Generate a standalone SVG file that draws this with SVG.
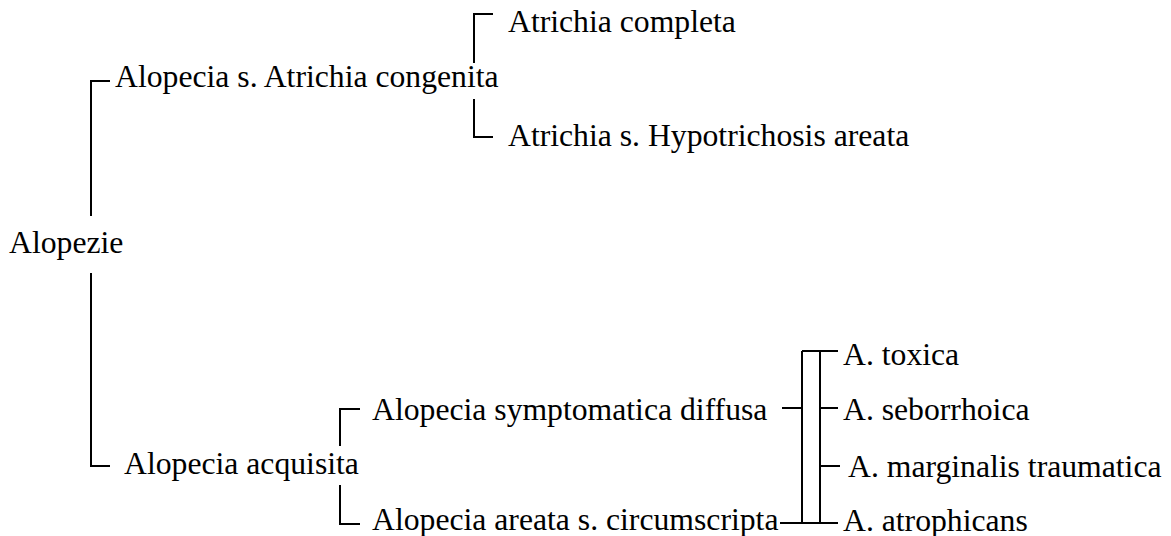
<svg xmlns="http://www.w3.org/2000/svg" width="1171" height="536" viewBox="0 0 1171 536">
<style>
text{font-family:"Liberation Serif","Times New Roman",serif;font-size:31.7px;fill:#000}
.c{fill:none;stroke:#000;stroke-width:2}
</style>
<rect width="1171" height="536" fill="#fff"/>
<g id="connectors">
<path class="c" d="M110,81H91V216"/>
<path class="c" d="M91,273V466H110"/>
<path class="c" d="M493,14H474V63"/>
<path class="c" d="M474,99V137H493"/>
<path class="c" d="M360,409H340V446"/>
<path class="c" d="M340,485V524H360"/>
<path class="c" d="M782,408H802"/>
<path class="c" d="M780,523H838"/>
<path class="c" d="M802,351V523"/>
<path class="c" d="M820,351V523"/>
<path class="c" d="M802,351H838"/>
<path class="c" d="M820,408H838"/>
<path class="c" d="M820,466H840"/>
</g>
<g id="n-alopezie"><text x="9" y="253">Alopezie</text></g>
<g id="n-congenita"><text x="115" y="87">Alopecia s. Atrichia congenita</text></g>
<g id="n-completa"><text x="508" y="32">Atrichia completa</text></g>
<g id="n-hypotrichosis"><text x="508" y="146">Atrichia s. Hypotrichosis areata</text></g>
<g id="n-acquisita"><text x="124" y="474">Alopecia acquisita</text></g>
<g id="n-diffusa"><text x="372" y="420">Alopecia symptomatica diffusa</text></g>
<g id="n-areata"><text x="372" y="530">Alopecia areata s. circumscripta</text></g>
<g id="n-toxica"><text x="843" y="365">A. toxica</text></g>
<g id="n-seborrhoica"><text x="843" y="420">A. seborrhoica</text></g>
<g id="n-marginalis"><text x="848" y="477">A. marginalis traumatica</text></g>
<g id="n-atrophicans"><text x="843" y="531">A. atrophicans</text></g>
</svg>
